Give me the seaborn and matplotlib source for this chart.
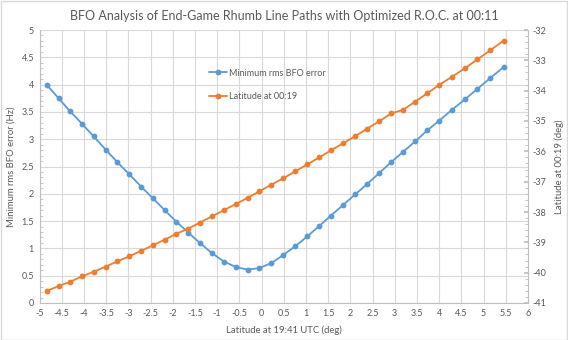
import matplotlib
matplotlib.use("Agg")
import matplotlib.pyplot as plt
import seaborn as sns
import pandas as pd
from matplotlib.ticker import MultipleLocator, FuncFormatter
from matplotlib.lines import Line2D
from matplotlib.patches import Rectangle

# Latitude of each rhumb-line path at 19:41 UTC (deg)
lat_1941 = [-4.83, -4.57, -4.31, -4.04, -3.78, -3.51, -3.25, -2.98, -2.71, -2.45,
            -2.18, -1.92, -1.65, -1.39, -1.11, -0.85, -0.58, -0.31, -0.05, 0.22,
            0.49, 0.76, 1.03, 1.30, 1.56, 1.83, 2.11, 2.38, 2.65, 2.92,
            3.19, 3.46, 3.73, 4.00, 4.29, 4.58, 4.86, 5.15, 5.45]

# Minimum rms BFO error for each path (Hz)
rms_bfo_error = [3.99, 3.75, 3.51, 3.28, 3.05, 2.81, 2.58, 2.36, 2.13, 1.92,
                 1.70, 1.49, 1.29, 1.10, 0.91, 0.76, 0.66, 0.61, 0.64, 0.73,
                 0.88, 1.04, 1.22, 1.41, 1.60, 1.79, 1.99, 2.18, 2.38, 2.58,
                 2.77, 2.96, 3.16, 3.34, 3.54, 3.73, 3.92, 4.12, 4.32]

# Latitude reached at 00:19 (deg)
lat_0019 = [-40.60, -40.44, -40.30, -40.12, -39.97, -39.80, -39.63, -39.46, -39.28, -39.10,
            -38.91, -38.72, -38.55, -38.35, -38.14, -37.94, -37.74, -37.53, -37.32, -37.10,
            -36.89, -36.66, -36.43, -36.20, -35.97, -35.74, -35.50, -35.25, -35.01, -34.75,
            -34.63, -34.36, -34.09, -33.81, -33.54, -33.26, -32.97, -32.67, -32.35]

series_names = ["Minimum rms BFO error", "Latitude at 00:19"]
title = "BFO Analysis of End-Game Rhumb Line Paths with Optimized R.O.C. at 00:11"

df = pd.DataFrame({"x": lat_1941, "err": rms_bfo_error, "lat": lat_0019})

sns.set_theme(style="white")
plt.rcParams["font.family"] = ["Lato", "DejaVu Sans"]
plt.rcParams["axes.unicode_minus"] = False

BLUE = "#5B9BD5"
ORANGE = "#ED7D31"
TXT = "#595959"
GRID = "#D9D9D9"
SPINE = "#BFBFBF"

W, H = 568, 340
fig = plt.figure(figsize=(W / 100, H / 100), dpi=100)
left, right, top, bottom = 39.5, 528, 30, 303
ax = fig.add_axes([left / W, 1 - bottom / H, (right - left) / W, (bottom - top) / H])
ax2 = ax.twinx()

sns.lineplot(data=df, x="x", y="err", ax=ax, color=BLUE, marker="o",
             markersize=4.2, markeredgewidth=0, linewidth=1.3, zorder=3)
sns.lineplot(data=df, x="x", y="lat", ax=ax2, color=ORANGE, marker="o",
             markersize=4.2, markeredgewidth=0, linewidth=1.3, zorder=3)

fmt = FuncFormatter(lambda v, p: f"{v:g}")

ax.set_xlim(-5, 6)
ax.set_ylim(0, 5)
ax2.set_ylim(-41, -32)
ax.xaxis.set_major_locator(MultipleLocator(0.5))
ax.xaxis.set_minor_locator(MultipleLocator(0.1))
ax.yaxis.set_major_locator(MultipleLocator(0.5))
ax.yaxis.set_minor_locator(MultipleLocator(0.1))
ax2.yaxis.set_major_locator(MultipleLocator(1))
ax2.yaxis.set_minor_locator(MultipleLocator(0.2))
ax.xaxis.set_major_formatter(fmt)
ax.yaxis.set_major_formatter(fmt)
ax2.yaxis.set_major_formatter(fmt)

ax.grid(True, which="major", color=GRID, linewidth=0.8)
ax.set_axisbelow(True)

for a in (ax, ax2):
    for s in a.spines.values():
        s.set_color(SPINE)
        s.set_linewidth(0.8)
    a.spines["top"].set_visible(False)
ax.spines["right"].set_visible(False)
ax2.spines["left"].set_visible(False)
ax2.spines["bottom"].set_visible(False)

ax.tick_params(axis="both", which="major", length=0, labelsize=6.5, labelcolor=TXT, pad=4)
ax.tick_params(axis="both", which="minor", length=2, color=SPINE, width=0.6, direction="in")
ax2.tick_params(axis="y", which="major", length=3, color=SPINE, labelsize=6.5,
                labelcolor=TXT, pad=3, direction="in")
ax2.tick_params(axis="y", which="minor", length=2, color=SPINE, width=0.6, direction="in")

ax.set_xlabel("Latitude at 19:41 UTC (deg)", fontsize=6.8, color=TXT, labelpad=6)
ax.set_ylabel("Minimum rms BFO error (Hz)", fontsize=6.8, color=TXT, labelpad=4)
ax2.set_ylabel("Latitude at 00:19 (deg)", fontsize=6.8, color=TXT, labelpad=6)

fig.text(0.5, 1 - 16 / H, title, ha="center", va="center", fontsize=9.0, color=TXT)

handles = [
    Line2D([], [], color=BLUE, marker="o", markersize=4.2, markeredgewidth=0, linewidth=1.3),
    Line2D([], [], color=ORANGE, marker="o", markersize=4.2, markeredgewidth=0, linewidth=1.3),
]
leg = ax2.legend(handles, series_names, loc="upper left",
                 bbox_to_anchor=(204 / W, 1 - 64 / H), bbox_transform=fig.transFigure,
                 frameon=False, fontsize=6.5, labelspacing=1.6, handlelength=2.0,
                 handletextpad=0.3, borderpad=0)
for t in leg.get_texts():
    t.set_color(TXT)

fig.patches.append(Rectangle((0.5 / W, 0.5 / H), 1 - 1.5 / W, 1 - 1.5 / H,
                             transform=fig.transFigure, fill=False,
                             edgecolor="#D9D9D9", linewidth=1.0))

fig.savefig("out.png", dpi=100)
